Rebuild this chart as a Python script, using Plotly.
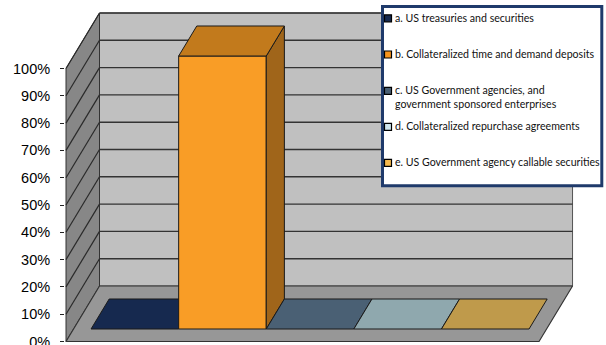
import plotly.graph_objects as go

# ---------------- data ----------------
categories = ["a", "b", "c", "d", "e"]
legend_labels = [
    "a. US treasuries and securities",
    "b. Collateralized time and demand deposits",
    "c. US Government agencies, and<br>government sponsored enterprises",
    "d. Collateralized repurchase agreements",
    "e. US Government agency callable securities",
]
values = [0.0, 1.0, 0.0, 0.0, 0.0]
tick_values = [0.0, 0.1, 0.2, 0.3, 0.4, 0.5, 0.6, 0.7, 0.8, 0.9, 1.0]
tick_labels = ["0%", "10%", "20%", "30%", "40%", "50%", "60%", "70%", "80%", "90%", "100%"]

# ---------------- styling ----------------
front_colors = ["#16294f", "#f99d26", "#4a6074", "#8fa8ae", "#bf9a4b"]
top_colors = ["#16294f", "#c27a1c", "#4a6074", "#8fa8ae", "#bf9a4b"]
side_colors = ["#0f1d38", "#a0651a", "#34475a", "#6f878d", "#8f7236"]
legend_colors = ["#16294f", "#f7941d", "#4a6074", "#cfe6ee", "#f5b94d"]

W, H = 606, 345
ML = 65
PX_PER_CAT = 87.6
PX_PER_VAL = 273.0
DEPTH_DX = 33.5
DEPTH_DY = 55.5
FLOOR_PAD = 0.2
BAR_D0, BAR_D1 = 0.225, 0.766
Y0_PX = 341.5  # pixel row of value 0 at front of floor

n = len(categories)
x_lo = -FLOOR_PAD - 1 / PX_PER_CAT
x_range = [x_lo, x_lo + (W - ML) / PX_PER_CAT]
y_range = [-(H - Y0_PX) / PX_PER_VAL, Y0_PX / PX_PER_VAL]


def proj(cx, v, d):
    return cx + DEPTH_DX / PX_PER_CAT * d, v + DEPTH_DY / PX_PER_VAL * d


def poly(pts, fill, line_color="#222222", lw=1.0):
    xs, ys = [], []
    for cx, v, d in pts:
        x, y = proj(cx, v, d)
        xs.append(x)
        ys.append(y)
    xs.append(xs[0])
    ys.append(ys[0])
    return go.Scatter(x=xs, y=ys, mode="lines", fill="toself", fillcolor=fill,
                      line=dict(color=line_color, width=lw), hoverinfo="skip",
                      showlegend=False)


def seg(p, q, color="#333333", lw=1.3):
    x0, y0 = proj(*p)
    x1, y1 = proj(*q)
    return go.Scatter(x=[x0, x1], y=[y0, y1], mode="lines",
                      line=dict(color=color, width=lw), hoverinfo="skip",
                      showlegend=False)


fig = go.Figure()
L, R = -FLOOR_PAD, n + FLOOR_PAD
vmax = tick_values[-1]

# back wall
fig.add_trace(poly([(L, 0, 1), (R, 0, 1), (R, vmax, 1), (L, vmax, 1)], "#c0c0c0", "#555555", 1))
for t in tick_values[1:]:
    fig.add_trace(seg((L, t, 1), (R, t, 1), "#333333", 1.4))
# side wall
fig.add_trace(poly([(L, 0, 0), (L, 0, 1), (L, vmax, 1), (L, vmax, 0)], "#878787", "#333333", 1))
for t in tick_values[1:]:
    fig.add_trace(seg((L, t, 0), (L, t, 1), "#2a2a2a", 1.2))
# floor
fig.add_trace(poly([(L, 0, 0), (R, 0, 0), (R, 0, 1), (L, 0, 1)], "#979797", "#333333", 1.2))

# bars
for i, v in enumerate(values):
    a, b = i, i + 1
    if v > 0:
        fig.add_trace(poly([(a, 0, BAR_D0), (b, 0, BAR_D0), (b, v, BAR_D0), (a, v, BAR_D0)],
                           front_colors[i], "#1a1a1a", 1))
        fig.add_trace(poly([(b, 0, BAR_D0), (b, 0, BAR_D1), (b, v, BAR_D1), (b, v, BAR_D0)],
                           side_colors[i], "#1a1a1a", 1))
    fig.add_trace(poly([(a, v, BAR_D0), (b, v, BAR_D0), (b, v, BAR_D1), (a, v, BAR_D1)],
                       top_colors[i], "#1a1a1a", 1))


# ---------------- legend (manual) ----------------
def xp(px):
    return (px - ML) / (W - ML)


def yp(py):
    return 1 - py / H


shapes = [dict(type="rect", xref="paper", yref="paper",
               x0=xp(382.5), x1=xp(601.8), y0=yp(185.8), y1=yp(6.5),
               fillcolor="white", line=dict(color="#1f3a6b", width=3), layer="above")]
item_y = [18.3, 54.5, 90.8, 126.8, 162.8]
annotations = []
for i, lab in enumerate(legend_labels):
    cy = item_y[i]
    shapes.append(dict(type="rect", xref="paper", yref="paper",
                       x0=xp(384.5), x1=xp(391.5), y0=yp(cy + 3.5), y1=yp(cy - 3.5),
                       fillcolor=legend_colors[i], line=dict(color="#000000", width=1.2),
                       layer="above"))
    annotations.append(dict(xref="paper", yref="paper", x=xp(394), y=yp(cy - 7.5),
                            xanchor="left", yanchor="top", align="left", showarrow=False,
                            text=lab, font=dict(family="Lato, Open Sans, sans-serif",
                                                size=10.6, color="#111111"),
                            borderpad=0))

fig.update_layout(
    width=W, height=H,
    margin=dict(l=ML, r=0, t=0, b=0, autoexpand=False),
    paper_bgcolor="white", plot_bgcolor="white",
    showlegend=False,
    xaxis=dict(range=x_range, visible=False, fixedrange=True, automargin=False),
    yaxis=dict(range=y_range, tickmode="array", tickvals=tick_values, ticktext=tick_labels,
               ticks="outside", ticklen=4, tickcolor="#222222", tickwidth=1,
               showgrid=False, zeroline=False, showline=False, automargin=False,
               tickfont=dict(family="Liberation Sans, Arial, sans-serif", size=14.5,
                             color="#000000"),
               ticklabeloverflow="allow",
               ticklabelstandoff=7, fixedrange=True),
    shapes=shapes,
    annotations=annotations,
)

fig.write_html("out.html")
